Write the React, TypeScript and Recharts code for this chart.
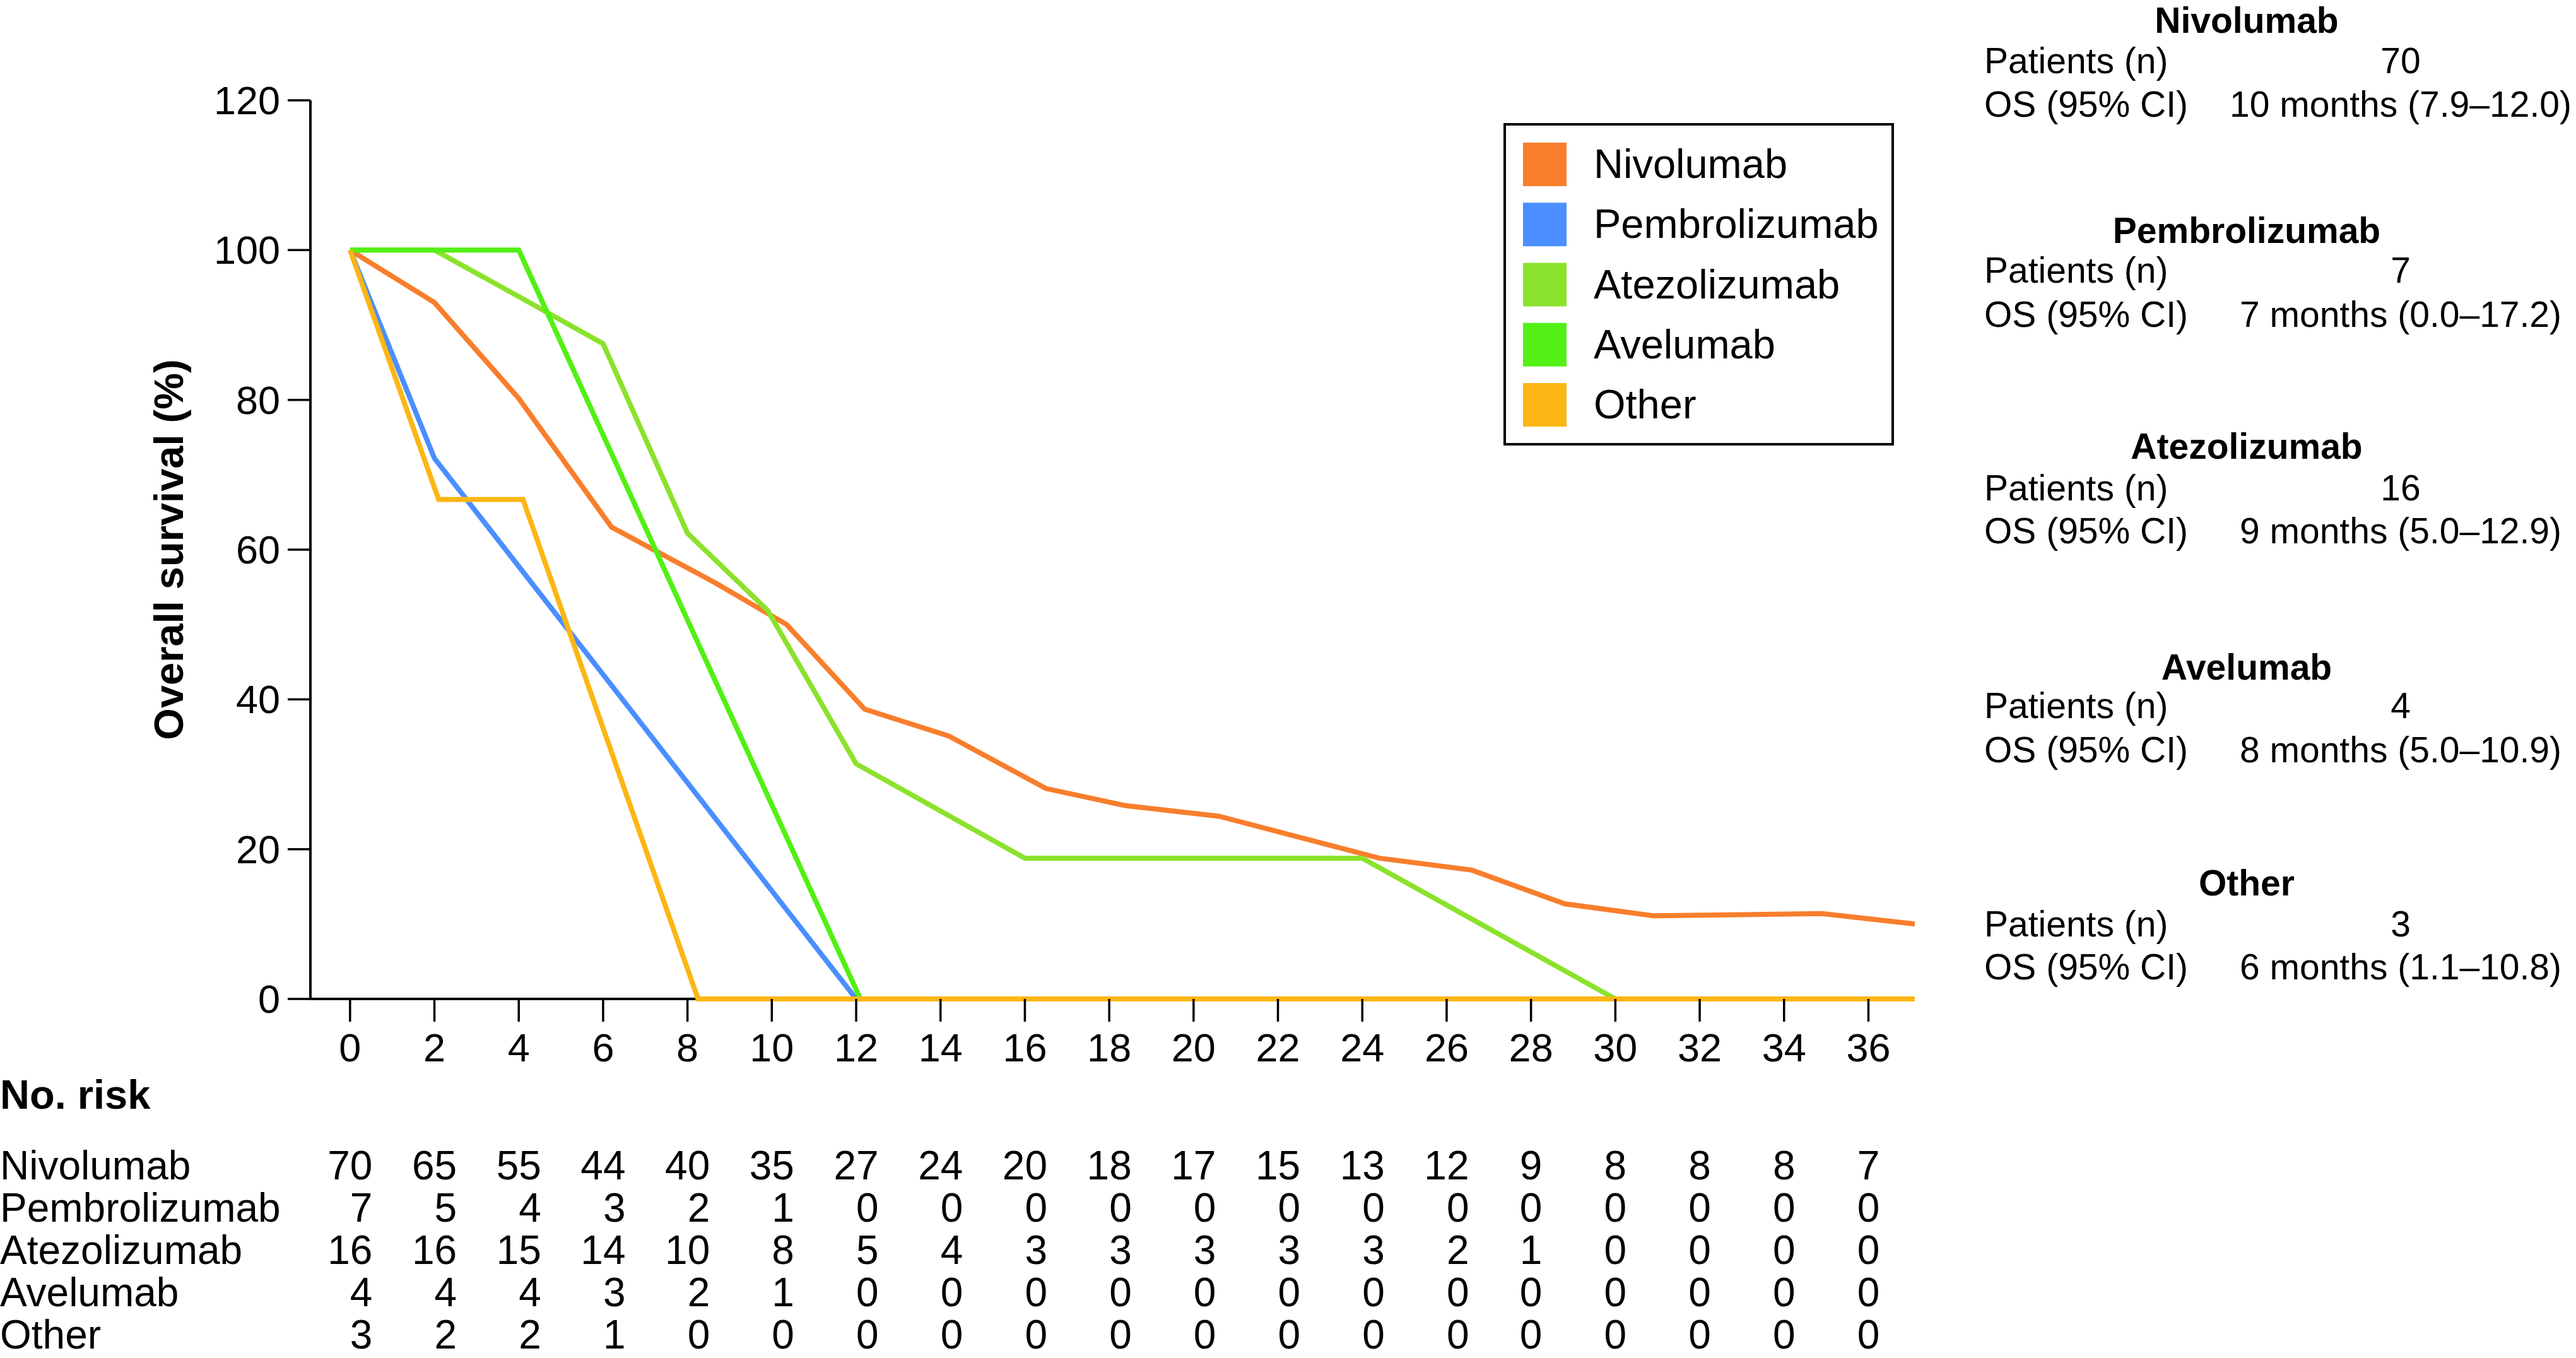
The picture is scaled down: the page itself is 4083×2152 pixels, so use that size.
import React from 'react';
import { LineChart, Line, XAxis, YAxis } from 'recharts';

const FONT = '"Liberation Sans", Arial, Helvetica, sans-serif';

// ---- series ----
const seriesNames = ['Nivolumab', 'Pembrolizumab', 'Atezolizumab', 'Avelumab', 'Other'];
const seriesColors = ['#F87E2C', '#4A8EFF', '#8BE22C', '#52F014', '#FCB614'];

const nivolumabCurve = [
  { x: 0, y: 100 }, { x: 2, y: 93 }, { x: 4, y: 80.2 }, { x: 6.2, y: 63 },
  { x: 8.65, y: 55.6 }, { x: 10.35, y: 50 }, { x: 12.2, y: 38.7 }, { x: 14.2, y: 35.1 },
  { x: 16.5, y: 28.1 }, { x: 18.4, y: 25.8 }, { x: 20.6, y: 24.4 }, { x: 24.4, y: 18.8 },
  { x: 26.6, y: 17.2 }, { x: 28.8, y: 12.7 }, { x: 30.9, y: 11.1 }, { x: 34.9, y: 11.4 },
  { x: 37.1, y: 10.0 },
];
const pembrolizumabCurve = [
  { x: 0, y: 100 }, { x: 2, y: 72.2 }, { x: 12, y: 0 }, { x: 37.1, y: 0 },
];
const atezolizumabCurve = [
  { x: 0, y: 100 }, { x: 2, y: 100 }, { x: 4, y: 93.8 }, { x: 6, y: 87.5 },
  { x: 8, y: 62.2 }, { x: 9.9, y: 51.9 }, { x: 12, y: 31.4 }, { x: 16, y: 18.8 },
  { x: 24, y: 18.8 }, { x: 30, y: 0 }, { x: 37.1, y: 0 },
];
const avelumabCurve = [
  { x: 0, y: 100 }, { x: 4, y: 100 }, { x: 12.1, y: 0 }, { x: 37.1, y: 0 },
];
const otherCurve = [
  { x: 0, y: 100 }, { x: 2.1, y: 66.7 }, { x: 4.1, y: 66.7 }, { x: 8.25, y: 0 }, { x: 37.1, y: 0 },
];
const curves = [nivolumabCurve, pembrolizumabCurve, atezolizumabCurve, avelumabCurve, otherCurve];

// ---- axes ----
const xDomain = [-0.94, 37.1];
const monthTicks = [0, 2, 4, 6, 8, 10, 12, 14, 16, 18, 20, 22, 24, 26, 28, 30, 32, 34, 36];
const survivalTicks = [0, 20, 40, 60, 80, 100, 120];
// x-axis base line (drawn beneath the curves)
const baseLine = [{ x: -0.94, y: 0 }, { x: 37.1, y: 0 }];

// ---- number at risk ----
const riskNivolumab = [70, 65, 55, 44, 40, 35, 27, 24, 20, 18, 17, 15, 13, 12, 9, 8, 8, 8, 7];
const riskPembrolizumab = [7, 5, 4, 3, 2, 1, 0, 0, 0, 0, 0, 0, 0, 0, 0, 0, 0, 0, 0];
const riskAtezolizumab = [16, 16, 15, 14, 10, 8, 5, 4, 3, 3, 3, 3, 3, 2, 1, 0, 0, 0, 0];
const riskAvelumab = [4, 4, 4, 3, 2, 1, 0, 0, 0, 0, 0, 0, 0, 0, 0, 0, 0, 0, 0];
const riskOther = [3, 2, 2, 1, 0, 0, 0, 0, 0, 0, 0, 0, 0, 0, 0, 0, 0, 0, 0];
const riskRows = [riskNivolumab, riskPembrolizumab, riskAtezolizumab, riskAvelumab, riskOther];

// ---- summary panel ----
const patientsN = ['70', '7', '16', '4', '3'];
const osText = [
  '10 months (7.9–12.0)',
  '7 months (0.0–17.2)',
  '9 months (5.0–12.9)',
  '8 months (5.0–10.9)',
  '6 months (1.1–10.8)',
];

// layout constants
const W = 4083;
const H = 2152;
const TICK_FS = 63;
const TABLE_FS = 64;
const RISK_Y0 = 1869;
const RISK_DY = 67;
const DIGIT_W = 0.556 * TABLE_FS;

function XTick(props: any) {
  const { x, y, payload } = props;
  const col = monthTicks.indexOf(payload.value);
  const maxDigits = col >= 0 ? Math.max(...riskRows.map((r) => String(r[col]).length)) : 1;
  const right = x + (maxDigits * DIGIT_W) / 2;
  return (
    <g>
      <text x={x} y={y} dy={45} textAnchor="middle" fontSize={TICK_FS} fontFamily={FONT} fill="#000">
        {payload.value}
      </text>
      {col >= 0 &&
        riskRows.map((r, ri) => (
          <text
            key={ri}
            x={right}
            y={RISK_Y0 + ri * RISK_DY}
            textAnchor="end"
            fontSize={TABLE_FS}
            fontFamily={FONT}
            fill="#000"
          >
            {r[col]}
          </text>
        ))}
    </g>
  );
}

function YTick(props: any) {
  const { x, y, payload } = props;
  return (
    <text x={x} y={y} dy={22} textAnchor="end" fontSize={TICK_FS} fontFamily={FONT} fill="#000">
      {payload.value}
    </text>
  );
}

function YLabel(props: any) {
  const vb = props.viewBox || { x: 192, y: 159, width: 300, height: 1424 };
  const cx = vb.x + 98;
  const cy = vb.y + vb.height / 2;
  return (
    <text
      transform={`translate(${cx},${cy}) rotate(-90)`}
      textAnchor="middle"
      fontSize={65}
      fontWeight="bold"
      fontFamily={FONT}
      fill="#000"
    >
      Overall survival (%)
    </text>
  );
}

const headerBase = [52, 385, 727, 1077, 1419];
const patientsBase = [116, 448, 793, 1138, 1484];
const osBase = [185, 518, 861, 1208, 1552];

export default function App() {
  return (
    <div style={{ position: 'absolute', left: 0, top: 0, width: W, height: H, background: '#fff' }}>
      <div style={{ position: 'absolute', left: 0, top: 0 }}>
        <LineChart
          width={W}
          height={H}
          margin={{ top: 159, right: 1048, bottom: 429, left: 192 }}
        >
          <XAxis
            dataKey="x"
            type="number"
            domain={xDomain}
            ticks={monthTicks}
            interval={0}
            height={140}
            tickSize={36}
            tickMargin={18}
            axisLine={false}
            tickLine={{ stroke: '#000', strokeWidth: 3.5 }}
            tick={<XTick />}
          />
          <YAxis
            type="number"
            domain={[0, 120]}
            ticks={survivalTicks}
            interval={0}
            width={300}
            tickSize={36}
            tickMargin={12}
            axisLine={{ stroke: '#000', strokeWidth: 4 }}
            tickLine={{ stroke: '#000', strokeWidth: 3.5 }}
            tick={<YTick />}
            label={{ content: (p: any) => <YLabel {...p} /> }}
          />
          <Line
            data={baseLine}
            dataKey="y"
            type="linear"
            stroke="#000"
            strokeWidth={4}
            dot={false}
            activeDot={false}
            legendType="none"
            isAnimationActive={false}
          />
          {curves.map((c, i) => (
            <Line
              key={seriesNames[i]}
              data={c}
              dataKey="y"
              name={seriesNames[i]}
              type="linear"
              stroke={seriesColors[i]}
              strokeWidth={8}
              dot={false}
              activeDot={false}
              isAnimationActive={false}
            />
          ))}
        </LineChart>
      </div>
      <svg
        width={W}
        height={H}
        style={{ position: 'absolute', left: 0, top: 0, pointerEvents: 'none' }}
        fontFamily={FONT}
      >
        {/* legend */}
        <rect x={2385} y={197} width={615} height={507} fill="none" stroke="#000" strokeWidth={4} />
        {seriesNames.map((n, i) => {
          const base = 282 + i * 95.25;
          return (
            <g key={n}>
              <rect x={2414} y={base - 56} width={69} height={69} fill={seriesColors[i]} />
              <text x={2526} y={base} fontSize={65} fill="#000">
                {n}
              </text>
            </g>
          );
        })}

        {/* risk table labels */}
        <text x={0} y={1757} fontSize={65} fontWeight="bold" fill="#000">
          No. risk
        </text>
        {seriesNames.map((n, i) => (
          <text key={n} x={0} y={RISK_Y0 + i * RISK_DY} fontSize={TABLE_FS} fill="#000">
            {n}
          </text>
        ))}

        {/* summary panel */}
        {seriesNames.map((n, i) => (
          <g key={n}>
            <text x={3561} y={headerBase[i]} fontSize={57} fontWeight="bold" textAnchor="middle" fill="#000">
              {n}
            </text>
            <text x={3145} y={patientsBase[i]} fontSize={57} fill="#000">
              Patients (n)
            </text>
            <text x={3805} y={patientsBase[i]} fontSize={57} textAnchor="middle" fill="#000">
              {patientsN[i]}
            </text>
            <text x={3145} y={osBase[i]} fontSize={57} fill="#000">
              OS (95% CI)
            </text>
            <text x={3805} y={osBase[i]} fontSize={57} textAnchor="middle" fill="#000">
              {osText[i]}
            </text>
          </g>
        ))}
      </svg>
    </div>
  );
}
